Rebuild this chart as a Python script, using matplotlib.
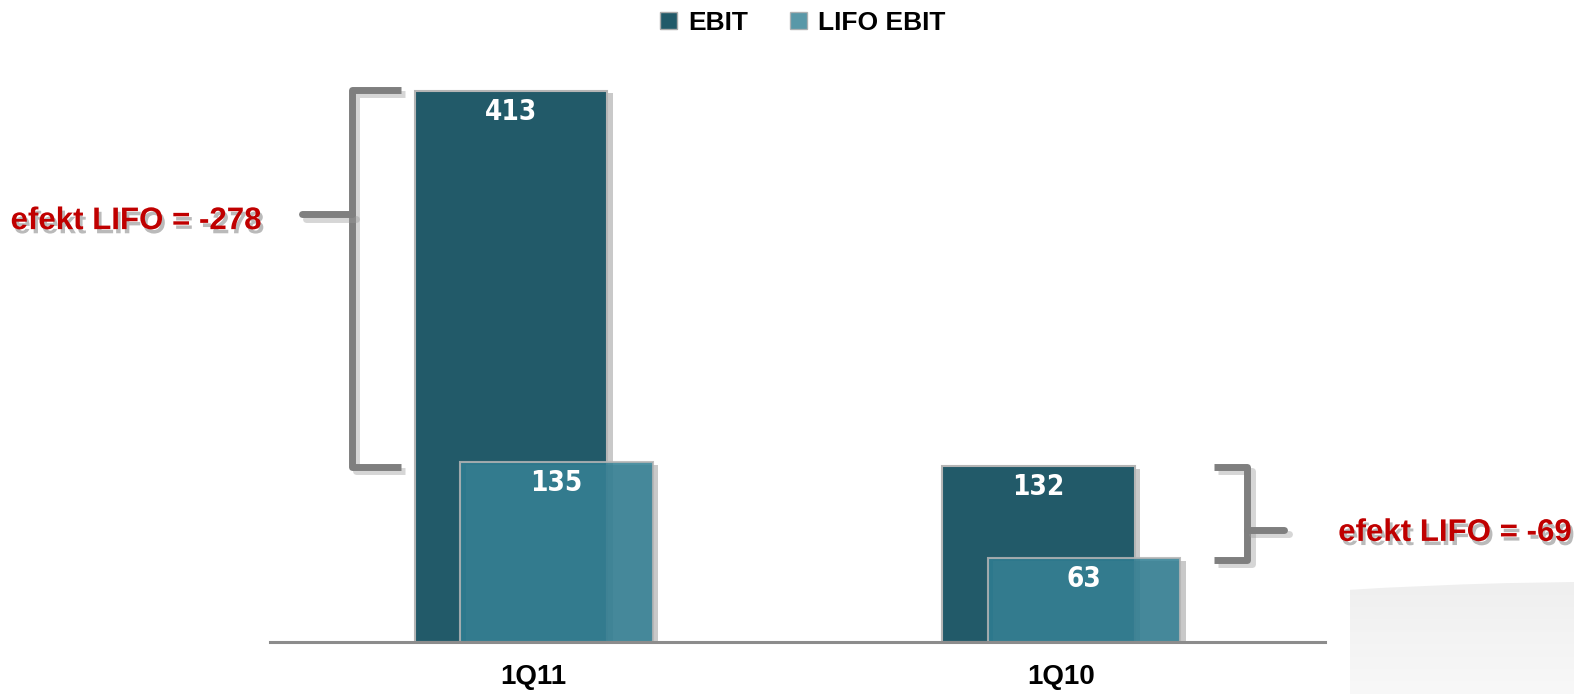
import numpy as np
import matplotlib.pyplot as plt
import matplotlib.patheffects as pe
from matplotlib.patches import Patch
from matplotlib.path import Path
from matplotlib.patches import PathPatch
from matplotlib.colors import LinearSegmentedColormap

# chart data
quarters = ['1Q11', '1Q10']
ebit = [413, 132]
lifo_ebit = [135, 63]
series_names = ['EBIT', 'LIFO EBIT']

# styling
c_ebit = '#225a69'
c_lifo = '#2f7e93'
c_red = '#c00000'
c_bracket = '#7f7f7f'
bold_font = ['Liberation Sans', 'DejaVu Sans']

fig = plt.figure(figsize=(15.74, 6.94), dpi=100)
ax = fig.add_axes([270 / 1574, 52 / 694, 1055 / 1574, 450 * 1.335 / 694])

x = np.arange(len(quarters))
width = 0.365
offset = 0.043

bar_shadow = [pe.SimplePatchShadow(offset=(4, -2), shadow_rgbFace='#888888', alpha=0.45), pe.Normal()]

bars_ebit = ax.bar(x - offset, ebit, width, color=c_ebit, edgecolor='#b5b5b5',
                   linewidth=1.5, zorder=2)
bars_lifo = ax.bar(x + offset, lifo_ebit, width, color=c_lifo, alpha=0.86,
                   edgecolor='#b5b5b5', linewidth=1.5, zorder=3)
for b in list(bars_ebit) + list(bars_lifo):
    b.set_path_effects(bar_shadow)

# value labels inside the bars
for bars in (bars_ebit, bars_lifo):
    for b in bars:
        h = b.get_height()
        ax.text(b.get_x() + b.get_width() / 2, h - 16, f'{h:.0f}', ha='center', va='center',
                color='white', fontsize=20, fontweight='bold', family='DejaVu Sans',
                fontstretch='condensed', zorder=5)

# brackets showing the LIFO effect
line_shadow = [pe.SimpleLineShadow(offset=(3, -3), shadow_color='#999999', alpha=0.4), pe.Normal()]
red_shadow = [pe.withSimplePatchShadow(offset=(2, -3), shadow_rgbFace='#666666', alpha=0.45)]

# left bracket (1Q11), opens to the right
top, bot = ebit[0] + 0.5, lifo_ebit[0] - 4
xv, xt, xs = -0.345, -0.252, -0.439
ys = bot + 0.67 * (top - bot)
ax.plot([xt, xv, xv, xt], [top, top, bot, bot], color=c_bracket, lw=5,
        solid_joinstyle='round', solid_capstyle='butt', clip_on=False,
        path_effects=line_shadow, zorder=4)
ax.plot([xs, xv], [ys, ys], color=c_bracket, lw=5, solid_capstyle='round',
        clip_on=False, path_effects=line_shadow, zorder=4)
ax.text(xs - 0.077, ys - 5, f'efekt LIFO = {lifo_ebit[0] - ebit[0]}', ha='right', va='center',
        color=c_red, fontsize=22.5, fontweight='bold', family=bold_font,
        path_effects=red_shadow, clip_on=False)

# right bracket (1Q10), opens to the left
top, bot = ebit[1] - 1, lifo_ebit[1] - 1.5
xv, xt, xs = 1.353, 1.29, 1.423
ys = bot + 0.32 * (top - bot)
ax.plot([xt, xv, xv, xt], [top, top, bot, bot], color=c_bracket, lw=5,
        solid_joinstyle='round', solid_capstyle='butt', clip_on=False,
        path_effects=line_shadow, zorder=4)
ax.plot([xv, xs], [ys, ys], color=c_bracket, lw=5, solid_capstyle='round',
        clip_on=False, path_effects=line_shadow, zorder=4)
ax.text(1.525, ys - 2, f'efekt LIFO = {lifo_ebit[1] - ebit[1]}', ha='left', va='center',
        color=c_red, fontsize=22.5, fontweight='bold', family=bold_font,
        path_effects=red_shadow, clip_on=False)

ax.set_xlim(-0.5, 1.5)
ax.set_ylim(0, 450)
ax.set_xticks(x)
ax.set_xticklabels(quarters, fontsize=20, fontweight='bold', family=bold_font)
ax.tick_params(axis='x', length=0, pad=16)
ax.set_yticks([])
for s in ['top', 'left', 'right']:
    ax.spines[s].set_visible(False)
ax.spines['bottom'].set_color('#8c8c8c')
ax.spines['bottom'].set_linewidth(2.2)
ax.spines['bottom'].set_zorder(6)

# legend
handles = [Patch(facecolor=c_ebit, edgecolor='#aaaaaa'),
           Patch(facecolor=c_lifo, alpha=0.8, edgecolor='#aaaaaa')]
fig.legend(handles, series_names, loc='center', bbox_to_anchor=(0.51, 0.967), ncol=2,
           frameon=False, handlelength=0.65, handleheight=0.65, handletextpad=0.4,
           columnspacing=1.6, prop={'family': bold_font, 'weight': 'bold', 'size': 19})

# faint decorative shape in the lower right corner
deco = fig.add_axes([1350 / 1574, 0, 224 / 1574, 112 / 694], zorder=-1)
deco.axis('off')
grad = np.linspace(0, 1, 256).reshape(-1, 1)
greys = LinearSegmentedColormap.from_list('deco', ['#f8f8f8', '#efefef'])
im = deco.imshow(grad, cmap=greys, aspect='auto', extent=[0, 1, 0, 1], origin='lower')
verts = [(0, 0), (0, 0.93), (0.3, 0.97), (0.7, 0.99), (1, 1), (1, 0), (0, 0)]
codes = [Path.MOVETO, Path.LINETO, Path.CURVE3, Path.CURVE3, Path.LINETO, Path.LINETO, Path.CLOSEPOLY]
clip = PathPatch(Path(verts, codes), transform=deco.transData, facecolor='none', edgecolor='none')
deco.add_patch(clip)
im.set_clip_path(clip)
deco.set_xlim(0, 1)
deco.set_ylim(0, 1)

fig.savefig('out.png', dpi=100)
